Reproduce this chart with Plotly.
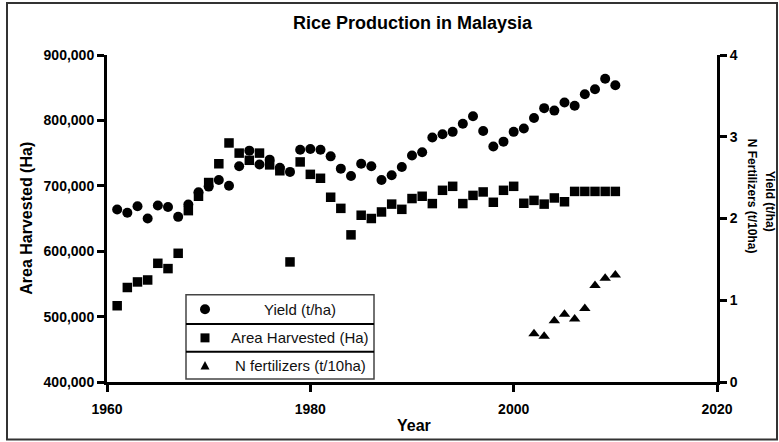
import plotly.graph_objects as go

# ---------------- data ----------------
years = list(range(1961, 2011))
yield_t_ha = [2.11, 2.07, 2.15, 2.00, 2.16, 2.14, 2.02, 2.17, 2.32, 2.39,
              2.47, 2.40, 2.64, 2.83, 2.66, 2.72, 2.62, 2.57, 2.84, 2.85,
              2.84, 2.76, 2.61, 2.52, 2.67, 2.64, 2.47, 2.53, 2.63, 2.77,
              2.81, 2.99, 3.03, 3.06, 3.16, 3.25, 3.07, 2.88, 2.94, 3.06,
              3.10, 3.23, 3.35, 3.32, 3.42, 3.38, 3.52, 3.58, 3.71, 3.63]
area_ha = [516600, 544500, 553000, 556000, 581500, 573400, 596800, 662000, 684000, 705000,
           733700, 765500, 750000, 739000, 750000, 732000, 723000, 583600, 736500, 717500,
           711500, 682500, 665500, 625000, 655000, 650000, 660000, 672000, 664000, 680500,
           684000, 672800, 693100, 699200, 672800, 685300, 690600, 674800, 693100, 699200,
           673300, 677700, 672000, 681400, 675600, 691400, 691400, 691400, 691400, 691400]
fert_years = [2002, 2003, 2004, 2005, 2006, 2007, 2008, 2009, 2010]
fert_t_10ha = [0.59, 0.56, 0.75, 0.83, 0.77, 0.90, 1.18, 1.27, 1.31]

x_ticks = [1960, 1980, 2000, 2020]
left_ticks = [400000, 500000, 600000, 700000, 800000, 900000]
right_ticks = [0, 1, 2, 3, 4]
legend_labels = ["Yield (t/ha)", "Area Harvested (Ha)", "N fertilizers (t/10ha)"]

# ---------------- layout geometry ----------------
W, H = 779, 442
X0, X1 = 107, 717      # plot area left/right (px)
Y0, Y1 = 55, 382.5     # plot area top/bottom (px)
FONT = "Liberation Sans, Arial, sans-serif"


def px(x):
    return (x - X0) / (X1 - X0)


def py(y):
    return (Y1 - y) / (Y1 - Y0)


fig = go.Figure()
fig.add_trace(go.Scatter(x=years, y=yield_t_ha, mode="markers", yaxis="y2",
                         marker=dict(symbol="circle", size=10, color="black"),
                         name=legend_labels[0], showlegend=False))
fig.add_trace(go.Scatter(x=years, y=area_ha, mode="markers", yaxis="y",
                         marker=dict(symbol="square", size=9.5, color="black"),
                         name=legend_labels[1], showlegend=False))
fig.add_trace(go.Scatter(x=fert_years, y=fert_t_10ha, mode="markers", yaxis="y2",
                         marker=dict(symbol="triangle-up", size=10, color="black"),
                         name=legend_labels[2], showlegend=False))

axis_common = dict(showgrid=False, zeroline=False, showline=True, linewidth=3,
                   linecolor="black", ticks="outside", ticklen=7, tickwidth=2.5,
                   tickcolor="black",
                   tickfont=dict(family=FONT, size=14, color="black", weight="bold"))

shapes = []
annotations = []

# outer frame
shapes.append(dict(type="rect", xref="paper", yref="paper",
                   x0=px(7), x1=px(777), y0=py(440), y1=py(3),
                   line=dict(color="#333333", width=2), fillcolor="rgba(0,0,0,0)", layer="above"))

# legend box
LX0, LX1 = 186, 374
rows = [295, 324.3, 352.3, 379.5]
shapes.append(dict(type="rect", xref="paper", yref="paper",
                   x0=px(LX0), x1=px(LX1), y0=py(rows[3]), y1=py(rows[0]),
                   line=dict(color="#444444", width=1.5), fillcolor="white"))
for r in rows[1:3]:
    shapes.append(dict(type="line", xref="paper", yref="paper",
                       x0=px(LX0), x1=px(LX1), y0=py(r), y1=py(r),
                       line=dict(color="black", width=2)))

# legend symbols
cx = 205
c1 = (rows[0] + rows[1]) / 2
c2 = (rows[1] + rows[2]) / 2
c3 = (rows[2] + rows[3]) / 2
shapes.append(dict(type="circle", xref="paper", yref="paper",
                   x0=px(cx - 5), x1=px(cx + 5), y0=py(c1 + 5), y1=py(c1 - 5),
                   fillcolor="black", line=dict(width=0)))
shapes.append(dict(type="rect", xref="paper", yref="paper",
                   x0=px(cx - 4.5), x1=px(cx + 4.5), y0=py(c2 + 4.5), y1=py(c2 - 4.5),
                   fillcolor="black", line=dict(width=0)))
tri = "M {} {} L {} {} L {} {} Z".format(px(cx - 4.5), py(c3 + 4), px(cx + 4.5), py(c3 + 4),
                                          px(cx), py(c3 - 4.5))
shapes.append(dict(type="path", xref="paper", yref="paper", path=tri,
                   fillcolor="black", line=dict(width=0)))

for lbl, cy in zip(legend_labels, [c1, c2, c3]):
    annotations.append(dict(text=lbl, xref="paper", yref="paper", x=px(300), y=py(cy),
                            xanchor="center", yanchor="middle", showarrow=False,
                            font=dict(family=FONT, size=15, color="#111111")))

# titles
annotations.append(dict(text="Rice Production in Malaysia", xref="paper", yref="paper",
                        x=px(412.5), y=py(23), xanchor="center", yanchor="middle",
                        showarrow=False,
                        font=dict(family=FONT, size=18, color="black", weight="bold")))
annotations.append(dict(text="Year", xref="paper", yref="paper",
                        x=px(414), y=py(426), xanchor="center", yanchor="middle",
                        showarrow=False,
                        font=dict(family=FONT, size=16, color="black", weight="bold")))
annotations.append(dict(text="Area Harvested (Ha)", xref="paper", yref="paper",
                        x=px(27), y=py(219), xanchor="center", yanchor="middle",
                        textangle=-90, showarrow=False,
                        font=dict(family=FONT, size=16, color="black", weight="bold")))
annotations.append(dict(text="N Fertilizers (t/10ha)", xref="paper", yref="paper",
                        x=px(752), y=py(196), xanchor="center", yanchor="middle",
                        textangle=90, showarrow=False,
                        font=dict(family=FONT, size=12, color="black", weight="bold")))
annotations.append(dict(text="Yield (t/ha)", xref="paper", yref="paper",
                        x=px(770), y=py(201), xanchor="center", yanchor="middle",
                        textangle=90, showarrow=False,
                        font=dict(family=FONT, size=12, color="black", weight="bold")))

fig.update_layout(
    width=W, height=H,
    margin=dict(l=X0, r=W - X1, t=Y0, b=H - Y1, pad=0),
    paper_bgcolor="white", plot_bgcolor="white",
    showlegend=False,
    xaxis=dict(range=[1960, 2020], tickvals=x_ticks, ticklabelstandoff=5, **axis_common),
    yaxis=dict(range=[400000, 900000], tickvals=left_ticks, tickformat=",d", **axis_common),
    yaxis2=dict(range=[0, 4], tickvals=right_ticks, overlaying="y", side="right",
                **axis_common),
    shapes=shapes,
    annotations=annotations,
)

fig.write_html("out.html", config={"displayModeBar": False},
               post_script="document.body.style.margin='0';document.body.style.overflow='hidden';")
